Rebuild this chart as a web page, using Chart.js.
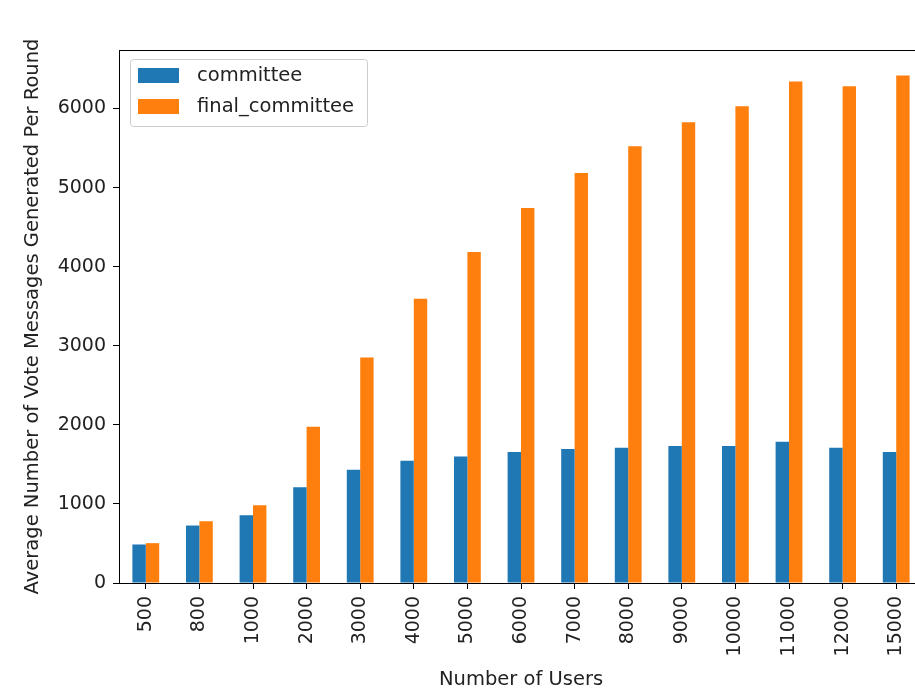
<!DOCTYPE html>
<html>
<head>
<meta charset="utf-8">
<script src="https://cdn.jsdelivr.net/npm/chart.js@4/dist/chart.umd.min.js"></script>
<style>
  html, body { margin: 0; padding: 0; overflow: hidden; background: #fff; }
  canvas { display: block; }
</style>
</head>
<body>
<canvas id="votes" width="1000" height="699"></canvas>
<script>
"use strict";
const users = ["500", "800", "1000", "2000", "3000", "4000", "5000", "6000",
  "7000", "8000", "9000", "10000", "11000", "12000", "15000"];
const committee = [487, 727, 857, 1210, 1433, 1546, 1601, 1655, 1693, 1710, 1731, 1731, 1786, 1710, 1655];
const finalCommittee = [504, 781, 983, 1975, 2850, 3594, 4187, 4741, 5183, 5523, 5826, 6028, 6343, 6280, 6419];
const yTicks = [0, 1000, 2000, 3000, 4000, 5000, 6000];

const FONT = "'DejaVu Sans', sans-serif";
const yMax = Math.max(...committee, ...finalCommittee) * 1.05;

// top spine (right one falls outside the crop) + legend box in the top left corner
const framePlugin = {
  id: "frame",
  afterDraw(chart) {
    const { ctx, chartArea: a } = chart;
    ctx.save();
    ctx.strokeStyle = "#000";
    ctx.lineWidth = 1;
    ctx.beginPath();
    ctx.moveTo(a.left, a.top + 0.5);
    ctx.lineTo(a.right, a.top + 0.5);
    ctx.stroke();

    const bx = 130.5, by = 59.5, bw = 237, bh = 67, r = 3;
    ctx.beginPath();
    ctx.roundRect(bx, by, bw, bh, r);
    ctx.fillStyle = "rgba(255,255,255,0.85)";
    ctx.fill();
    ctx.strokeStyle = "#cccccc";
    ctx.stroke();

    ctx.font = "19.5px " + FONT;
    ctx.textBaseline = "middle";
    chart.data.datasets.forEach((ds, i) => {
      const y = 68 + i * 31;
      ctx.fillStyle = ds.backgroundColor;
      ctx.fillRect(138, y, 41, 15);
      ctx.fillStyle = "#222";
      ctx.fillText(ds.label, 197, y + 8);
    });
    ctx.restore();
  }
};

new Chart(document.getElementById("votes"), {
  type: "bar",
  data: {
    labels: users,
    datasets: [
      { label: "committee", data: committee, backgroundColor: "#1f77b4",
        categoryPercentage: 0.5, barPercentage: 1.0, borderWidth: 0 },
      { label: "final_committee", data: finalCommittee, backgroundColor: "#ff7f0e",
        categoryPercentage: 0.5, barPercentage: 1.0, borderWidth: 0 }
    ]
  },
  options: {
    responsive: false,
    animation: false,
    layout: { padding: { left: 21, top: 50, right: 77, bottom: 7 } },
    plugins: { legend: { display: false }, tooltip: { enabled: false } },
    scales: {
      x: {
        offset: true,
        grid: { offset: false, drawOnChartArea: false, tickLength: 6, color: "#000" },
        border: { display: true, color: "#000" },
        ticks: {
          minRotation: 90, maxRotation: 90, padding: 7, color: "#222",
          font: { family: FONT, size: 19 }
        },
        title: { display: true, text: "Number of Users", color: "#222", padding: 0,
          font: { family: FONT, size: 19.5 } },
        afterFit(s) { s.height = 109; }
      },
      y: {
        min: 0,
        max: yMax,
        afterBuildTicks(s) { s.ticks = yTicks.map(v => ({ value: v })); },
        grid: { drawOnChartArea: false, tickLength: 6, color: "#000" },
        border: { display: true, color: "#000" },
        ticks: { padding: 7, color: "#222", font: { family: FONT, size: 19 },
          callback: v => String(v) },
        title: { display: true, text: "Average Number of Vote Messages Generated Per Round",
          color: "#222", padding: 0, font: { family: FONT, size: 19.5 } },
        afterFit(s) { s.width = 98; }
      }
    }
  },
  plugins: [framePlugin]
});
</script>
</body>
</html>
